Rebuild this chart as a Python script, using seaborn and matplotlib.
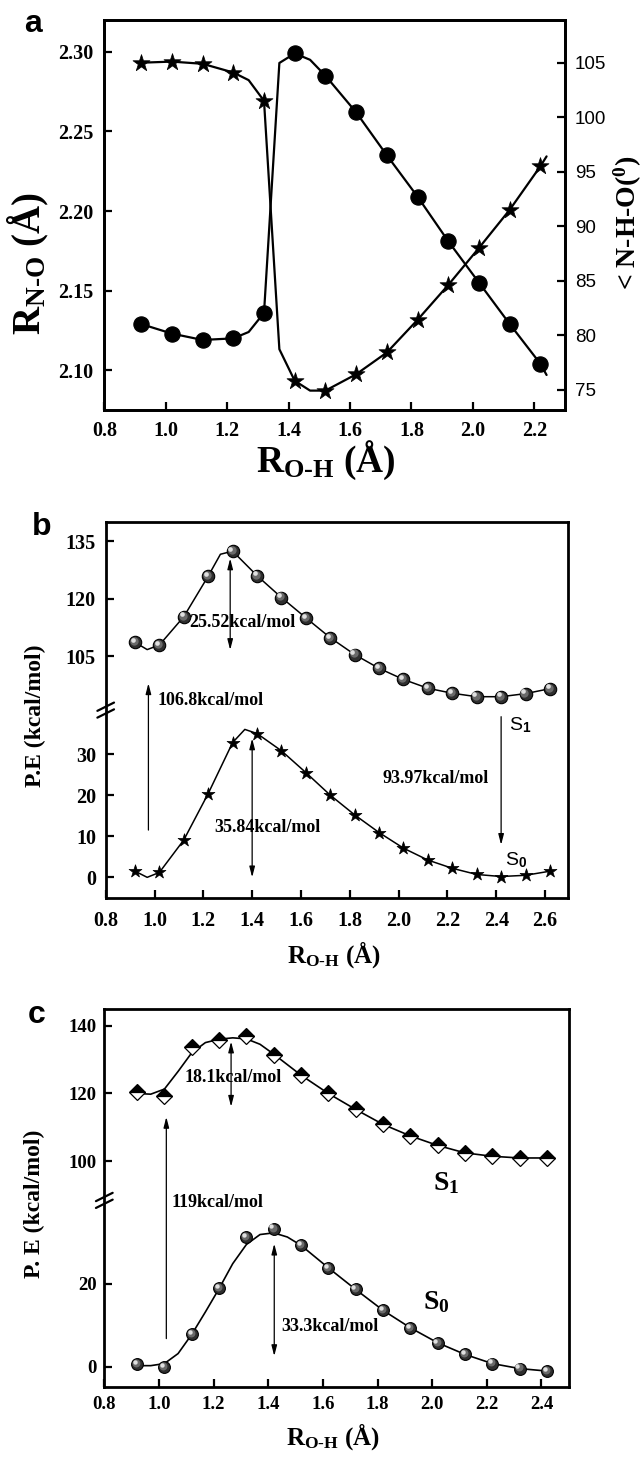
import numpy as np
import matplotlib
matplotlib.use('Agg')
import matplotlib.pyplot as plt
import seaborn as sns
from matplotlib.transforms import offset_copy

sns.set_theme(style='ticks', rc={'axes.edgecolor': 'black', 'text.color': 'black',
                                 'xtick.color': 'black', 'ytick.color': 'black',
                                 'axes.labelcolor': 'black'})
plt.rcParams['font.family'] = ['Liberation Serif', 'DejaVu Serif']
plt.rcParams['font.weight'] = 'bold'
plt.rcParams['axes.labelweight'] = 'bold'
plt.rcParams['mathtext.fontset'] = 'custom'
plt.rcParams['mathtext.rm'] = 'Liberation Serif:bold'
plt.rcParams['mathtext.it'] = 'Liberation Serif:bold'
plt.rcParams['mathtext.bf'] = 'Liberation Serif:bold'
plt.rcParams['mathtext.sf'] = 'Liberation Sans'

# ---------------- data: panel a ----------------
a_x = [0.92, 1.02, 1.12, 1.22, 1.32, 1.42, 1.52, 1.62, 1.72, 1.82, 1.92, 2.02, 2.12, 2.22]
a_rno = [2.129, 2.123, 2.119, 2.120, 2.136, 2.299, 2.285, 2.262, 2.235, 2.209, 2.181, 2.155, 2.129, 2.104]
a_ang = [105.0, 105.1, 104.9, 104.1, 101.5, 75.8, 74.9, 76.4, 78.4, 81.4, 84.6, 88.0, 91.5, 95.5]
a_line_x = [0.92, 1.02, 1.12, 1.22, 1.27, 1.32, 1.37, 1.42, 1.47, 1.52, 1.62, 1.72, 1.82, 1.92, 2.02, 2.12, 2.22, 2.24]
a_rno_line = [2.129, 2.123, 2.119, 2.120, 2.124, 2.136, 2.293, 2.299, 2.295, 2.285, 2.262, 2.235, 2.209, 2.181, 2.155, 2.129, 2.104, 2.097]
a_ang_line = [105.0, 105.1, 104.9, 104.1, 103.4, 101.5, 78.7, 75.8, 74.9, 74.9, 76.4, 78.4, 81.4, 84.6, 88.0, 91.5, 95.5, 96.4]
a_xticks = [0.8, 1.0, 1.2, 1.4, 1.6, 1.8, 2.0, 2.2]
a_yticks = [2.10, 2.15, 2.20, 2.25, 2.30]
a_y2ticks = [75, 80, 85, 90, 95, 100, 105]

# ---------------- data: panel b ----------------
b_x = [0.92, 1.02, 1.12, 1.22, 1.32, 1.42, 1.52, 1.62, 1.72, 1.82, 1.92, 2.02, 2.12, 2.22, 2.32, 2.42, 2.52, 2.62]
b_s1 = [108.6, 107.9, 115.3, 125.9, 132.4, 126.0, 120.3, 115.0, 109.8, 105.4, 101.8, 98.9, 96.6, 95.3, 94.4, 94.4, 95.2, 96.5]
b_s0 = [1.5, 1.2, 9.1, 20.4, 32.8, 35.0, 30.8, 25.5, 20.0, 15.2, 10.9, 7.1, 4.2, 2.2, 0.7, 0.2, 0.5, 1.5]
b_s1_line_x = [0.92, 0.97, 1.02, 1.12, 1.22, 1.27, 1.32, 1.42, 1.52, 1.62, 1.72, 1.82, 1.92, 2.02, 2.12, 2.22, 2.32, 2.42, 2.52, 2.62]
b_s1_line = [108.6, 106.7, 107.9, 115.3, 125.9, 131.6, 132.4, 126.0, 120.3, 115.0, 109.8, 105.4, 101.8, 98.9, 96.6, 95.3, 94.4, 94.4, 95.2, 96.5]
b_s0_line_x = [0.92, 0.97, 1.02, 1.12, 1.22, 1.32, 1.37, 1.42, 1.52, 1.62, 1.72, 1.82, 1.92, 2.02, 2.12, 2.22, 2.32, 2.42, 2.52, 2.62]
b_s0_line = [1.5, 0.0, 1.2, 9.1, 20.4, 32.8, 36.0, 35.0, 30.8, 25.5, 20.0, 15.2, 10.9, 7.1, 4.2, 2.2, 0.7, 0.2, 0.5, 1.5]
b_xticks = [0.8, 1.0, 1.2, 1.4, 1.6, 1.8, 2.0, 2.2, 2.4, 2.6]
b_yticks = [0, 10, 20, 30, 105, 120, 135]

# ---------------- data: panel c ----------------
c_x = [0.92, 1.02, 1.12, 1.22, 1.32, 1.42, 1.52, 1.62, 1.72, 1.82, 1.92, 2.02, 2.12, 2.22, 2.32, 2.42]
c_s1 = [120.5, 119.2, 133.8, 135.7, 137.0, 131.3, 125.4, 120.0, 115.3, 110.9, 107.5, 104.7, 102.5, 101.5, 101.0, 101.0]
c_s0 = [0.6, 0.0, 7.8, 19.0, 31.2, 33.2, 29.2, 23.8, 18.6, 13.6, 9.4, 5.8, 3.0, 0.8, -0.4, -1.0]
c_s1_line_x = [0.92, 0.97, 1.02, 1.07, 1.12, 1.17, 1.22, 1.27, 1.32, 1.37, 1.42, 1.52, 1.62, 1.72, 1.82, 1.92, 2.02, 2.12, 2.22, 2.32, 2.42]
c_s1_line = [120.0, 119.8, 121.3, 126.5, 132.0, 135.0, 136.0, 136.4, 136.1, 134.5, 131.6, 125.4, 120.0, 115.3, 110.9, 107.5, 104.7, 102.5, 101.5, 101.0, 101.0]
c_s0_line_x = [0.92, 0.97, 1.02, 1.07, 1.12, 1.17, 1.22, 1.27, 1.32, 1.37, 1.42, 1.47, 1.52, 1.62, 1.72, 1.82, 1.92, 2.02, 2.12, 2.22, 2.32, 2.42]
c_s0_line = [0.3, 0.3, 0.8, 3.2, 7.8, 13.2, 18.8, 24.8, 29.4, 31.8, 32.2, 31.2, 29.2, 23.8, 18.6, 13.6, 9.4, 5.8, 3.0, 0.8, -0.4, -1.0]
c_xticks = [0.8, 1.0, 1.2, 1.4, 1.6, 1.8, 2.0, 2.2, 2.4]
c_yticks = [0, 20, 100, 120, 140]

# ---------------- figure ----------------
fig = plt.figure(figsize=(6.44, 14.58), dpi=100)
W, H = 644.0, 1458.0
def box(l, t, r, b):
    return [l / W, 1 - b / H, (r - l) / W, (b - t) / H]
axa = fig.add_axes(box(104.3, 20, 565, 410))
axb = fig.add_axes(box(105.7, 521.7, 568, 898.3))
axc = fig.add_axes(box(104.3, 1009, 568.8, 1387.3))


def broken(lo_top, hi_bot, k_lo, k_hi):
    kv = np.array([-1e4, lo_top, hi_bot, 1e4])
    d1 = lo_top * k_lo
    kd = np.array([-1e4 * k_lo, d1, d1 + 1e-3, d1 + 1e-3 + (1e4 - hi_bot) * k_hi])
    return (lambda v: np.interp(v, kv, kd)), (lambda d: np.interp(d, kd, kv))


def style(ax, lsize, xpad, ypad):
    for sp in ax.spines.values():
        sp.set_linewidth(2.0)
        sp.set_visible(True)
    ax.tick_params(axis='both', which='major', direction='in', length=6, width=1.6,
                   top=False, right=False, labelsize=lsize)
    ax.tick_params(axis='x', pad=xpad)
    ax.tick_params(axis='y', pad=ypad)
    ax.minorticks_off()


def line(ax, x, y, lw):
    sns.lineplot(x=x, y=y, ax=ax, color='black', lw=lw, errorbar=None,
                 estimator=None, sort=False, legend=False, zorder=2)


def stars(ax, x, y, s):
    sns.scatterplot(x=x, y=y, ax=ax, marker='*', s=s, color='black',
                    edgecolor='black', linewidth=0.5, legend=False, zorder=3)


def spheres(ax, x, y, s):
    sns.scatterplot(x=x, y=y, ax=ax, marker='o', s=s, color='#2e2e2e',
                    edgecolor='black', linewidth=0.8, legend=False, zorder=3)
    t1 = offset_copy(ax.transData, fig=fig, x=-0.8, y=0.8, units='points')
    ax.scatter(x, y, s=s * 0.45, color='#6a6a6a', linewidths=0, transform=t1, zorder=4)
    t2 = offset_copy(ax.transData, fig=fig, x=-1.6, y=1.6, units='points')
    ax.scatter(x, y, s=s * 0.14, color='#e0e0e0', linewidths=0, transform=t2, zorder=5)


def arrow(ax, x, y0, y1, style_, fs=9):
    ax.annotate('', xy=(x, y1), xytext=(x, y0),
                arrowprops=dict(arrowstyle=style_ + ',head_length=0.7,head_width=0.18',
                                color='black', lw=0.9, shrinkA=0, shrinkB=0,
                                mutation_scale=fs), zorder=6)


def break_marks(ax, yval):
    ax.figure.canvas.draw()
    yb = ax.transAxes.inverted().transform(ax.transData.transform((1.0, yval)))[1]
    for dy in (-0.009, 0.009):
        ax.plot([-0.018, 0.018], [yb + dy - 0.011, yb + dy + 0.011], color='black',
                lw=1.6, transform=ax.transAxes, clip_on=False, zorder=7)


sub_oh = r'R$_{\mathrm{O}\text{-}\mathrm{H}}$ (Å)'

# ---------------- panel a ----------------
ax2 = axa.twinx()
line(axa, a_line_x, a_rno_line, 1.6)
sns.scatterplot(x=a_x, y=a_rno, ax=axa, marker='o', s=120, color='black',
                edgecolor='black', legend=False, zorder=3)
line(ax2, a_line_x, a_ang_line, 1.6)
stars(ax2, a_x, a_ang, 165)
axa.set_xlim(0.8, 2.30)
axa.set_ylim(2.075, 2.32)
ax2.set_ylim(73.12, 108.92)
axa.set_xticks(a_xticks)
axa.set_xticklabels([f'{v:.1f}' for v in a_xticks])
axa.set_yticks(a_yticks)
axa.set_yticklabels([f'{v:.2f}' for v in a_yticks])
style(axa, 14.5, 8, 8)
ax2.set_yticks(a_y2ticks)
ax2.set_yticklabels([str(v) for v in a_y2ticks])
ax2.tick_params(axis='y', direction='in', length=6, width=1.6, right=True, left=False,
                labelright=True, labelleft=False, pad=7, labelsize=13.5)
for lab in ax2.get_yticklabels():
    lab.set_fontfamily('Liberation Sans')
    lab.set_fontweight('normal')
for sp in ax2.spines.values():
    sp.set_linewidth(2.0)
axa.set_xlabel(sub_oh, fontsize=27)
axa.xaxis.set_label_coords(0.48, -0.13)
axa.xaxis.label.set_va('center')
axa.set_ylabel(r'R$_{\mathrm{N}\text{-}\mathrm{O}}$ (Å)', fontsize=28)
axa.yaxis.set_label_coords(-0.165, 0.375)
axa.yaxis.label.set_va('center')
ax2.set_ylabel(r'< N-H-O($^{0}$)', fontsize=20, rotation=90)
ax2.yaxis.set_label_coords(1.137, 0.48)
ax2.yaxis.label.set_va('center')

# ---------------- panel b ----------------
fb = broken(40.7, 90.9, 4.11, 3.83)
axb.set_yscale('function', functions=fb)
line(axb, b_s1_line_x, b_s1_line, 1.1)
line(axb, b_s0_line_x, b_s0_line, 1.1)
spheres(axb, b_x, b_s1, 80)
stars(axb, b_x, b_s0, 95)
axb.set_xlim(0.8, 2.694)
axb.set_ylim(-5.1, 140.1)
axb.set_xticks(b_xticks)
axb.set_xticklabels([f'{v:.1f}' for v in b_xticks])
axb.set_yticks(b_yticks)
axb.set_yticklabels([str(v) for v in b_yticks])
style(axb, 14.5, 9, 7)
axb.set_xlabel(sub_oh, fontsize=18)
axb.xaxis.set_label_coords(0.494, -0.15)
axb.xaxis.label.set_va('center')
axb.set_ylabel('P.E (kcal/mol)', fontsize=17)
axb.yaxis.set_label_coords(-0.152, 0.484)
axb.yaxis.label.set_va('center')

arrow(axb, 1.31, 106.6, 130.5, '<|-|>')
axb.text(1.36, 113.7, '25.52kcal/mol', ha='center', va='center', fontsize=13, zorder=8)
arrow(axb, 0.975, 11.5, 97.9, '-|>')
axb.text(1.013, 93.3, '106.8kcal/mol', ha='left', va='center', fontsize=13, zorder=8)
arrow(axb, 1.40, 0.0, 33.8, '<|-|>')
axb.text(1.463, 12.2, '35.84kcal/mol', ha='center', va='center', fontsize=13, zorder=8)
arrow(axb, 2.42, 39.1, 7.9, '-|>')
axb.text(2.15, 24.1, '93.97kcal/mol', ha='center', va='center', fontsize=13, zorder=8)
axb.text(2.452, 37.0, r'S$_{\mathsf{1}}$', ha='left', va='center', fontsize=14,
         fontfamily='Liberation Sans', fontweight='normal')
axb.text(2.435, 4.2, r'S$_{\mathsf{0}}$', ha='left', va='center', fontsize=14,
         fontfamily='Liberation Sans', fontweight='normal')
break_marks(axb, 40.7)

# ---------------- panel c ----------------
fc = broken(40.0, 88.5, 4.15, 3.383)
axc.set_yscale('function', functions=fc)
line(axc, c_s1_line_x, c_s1_line, 1.2)
line(axc, c_s0_line_x, c_s0_line, 1.2)
sns.lineplot(x=c_x, y=c_s1, ax=axc, linestyle='', marker='D', markersize=7.8,
             fillstyle='top', markerfacecolor='black', markerfacecoloralt='white',
             markeredgecolor='black', markeredgewidth=0.9, color='black',
             errorbar=None, estimator=None, sort=False, legend=False, zorder=3)
spheres(axc, c_x, c_s0, 72)
axc.set_xlim(0.8, 2.50)
axc.set_ylim(-4.9, 144.9)
axc.set_xticks(c_xticks)
axc.set_xticklabels([f'{v:.1f}' for v in c_xticks])
axc.set_yticks(c_yticks)
axc.set_yticklabels([str(v) for v in c_yticks])
style(axc, 13.5, 6, 5.5)
axc.set_xlabel(sub_oh, fontsize=18)
axc.xaxis.set_label_coords(0.492, -0.13)
axc.xaxis.label.set_va('center')
axc.set_ylabel('P. E (kcal/mol)', fontsize=17)
axc.yaxis.set_label_coords(-0.151, 0.485)
axc.yaxis.label.set_va('center')

arrow(axc, 1.264, 116.1, 135.3, '<|-|>')
axc.text(1.27, 124.7, '18.1kcal/mol', ha='center', va='center', fontsize=13, zorder=8)
arrow(axc, 1.027, 6.8, 113.1, '-|>')
axc.text(1.047, 39.4, '119kcal/mol', ha='left', va='center', fontsize=13, zorder=8)
arrow(axc, 1.422, 2.6, 29.6, '<|-|>')
axc.text(1.448, 9.8, '33.3kcal/mol', ha='left', va='center', fontsize=13, zorder=8)
axc.text(2.003, 93.5, r'S$_{1}$', ha='left', va='center', fontsize=20)
axc.text(1.966, 15.5, r'S$_{0}$', ha='left', va='center', fontsize=20)
break_marks(axc, 40.0)

# panel letters
for lab, xx, yy in (('a', 24, 32), ('b', 32, 535), ('c', 28, 1023)):
    fig.text(xx / W, 1 - yy / H, lab, ha='left', va='baseline', fontsize=23,
             fontfamily='Liberation Sans', fontweight='bold')

fig.savefig('out.png', dpi=100)
